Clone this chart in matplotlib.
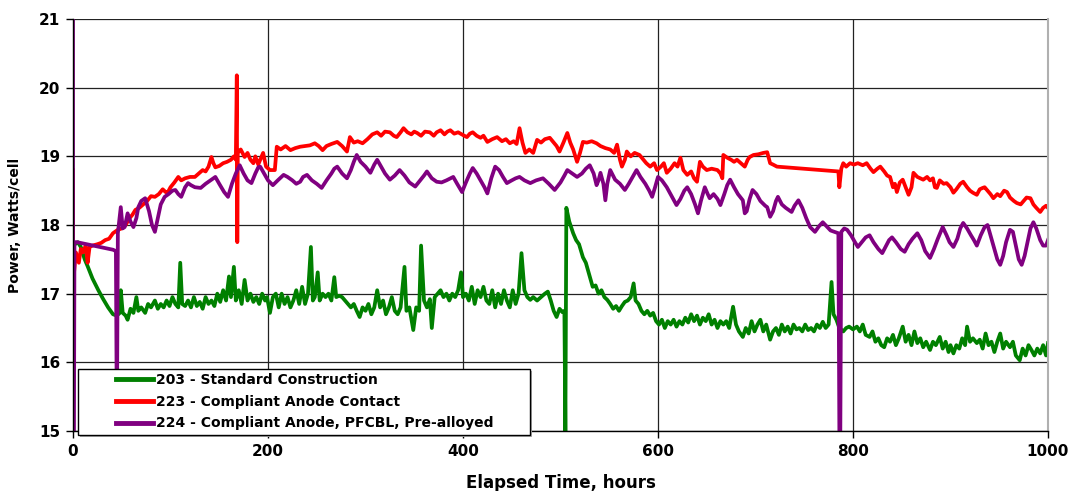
import numpy as np
import matplotlib
matplotlib.use("Agg")
import matplotlib.pyplot as plt
from matplotlib.patches import Rectangle

# (hours, watts/cell)
cell_203 = [
    (2, 17.72), (5, 17.75), (8, 17.68), (12, 17.5), (15, 17.4), (20, 17.22), (26, 17.05),
    (31, 16.92), (36, 16.8), (41, 16.7), (45, 16.68), (48, 16.72), (49, 17.05), (51, 16.72),
    (54, 16.68), (56, 16.62), (59, 16.78), (62, 16.72), (65, 16.95), (67, 16.75), (70, 16.8),
    (74, 16.72), (77, 16.85), (80, 16.8), (84, 16.9), (87, 16.78), (90, 16.85), (93, 16.8),
    (96, 16.9), (99, 16.82), (102, 16.95), (105, 16.85), (108, 16.8), (110, 17.45), (112, 16.85),
    (115, 16.82), (118, 16.9), (121, 16.8), (124, 16.95), (127, 16.82), (130, 16.88), (133, 16.78),
    (136, 16.95), (139, 16.85), (142, 16.9), (145, 16.82), (148, 17.0), (151, 16.88), (154, 17.05),
    (157, 16.9), (160, 17.25), (162, 16.95), (165, 17.39), (167, 16.9), (170, 17.05), (173, 16.85),
    (176, 17.2), (179, 16.9), (182, 17.0), (185, 16.88), (188, 16.95), (191, 16.85), (194, 17.0),
    (197, 16.9), (199, 16.95), (202, 16.72), (205, 16.95), (208, 17.0), (211, 16.8), (214, 17.0),
    (217, 16.85), (220, 16.95), (223, 16.8), (226, 16.9), (229, 17.05), (232, 16.85), (235, 17.1),
    (238, 16.85), (241, 17.0), (244, 17.68), (246, 16.9), (248, 16.95), (251, 17.31), (253, 16.9),
    (256, 17.0), (259, 16.95), (262, 17.0), (265, 16.9), (268, 17.24), (270, 16.95), (273, 16.97),
    (276, 16.95), (279, 16.9), (282, 16.85), (285, 16.8), (288, 16.85), (291, 16.75), (294, 16.66),
    (297, 16.8), (300, 16.75), (303, 16.85), (306, 16.7), (309, 16.8), (312, 17.05), (315, 16.8),
    (318, 16.9), (321, 16.7), (324, 16.8), (327, 16.95), (330, 16.75), (333, 16.7), (336, 16.8),
    (340, 17.39), (342, 16.75), (345, 16.8), (349, 16.47), (352, 16.8), (355, 16.75), (357, 17.7),
    (360, 16.9), (363, 16.8), (366, 16.92), (368, 16.5), (371, 16.95), (374, 17.0), (377, 17.05),
    (380, 16.95), (383, 17.0), (386, 16.9), (389, 17.0), (392, 16.95), (395, 17.05), (398, 17.31),
    (400, 16.95), (403, 17.0), (406, 16.9), (409, 17.1), (412, 16.85), (415, 17.05), (418, 16.95),
    (421, 17.1), (424, 16.9), (427, 16.85), (430, 17.05), (433, 16.8), (436, 17.0), (439, 16.85),
    (442, 17.05), (445, 16.9), (448, 16.8), (451, 17.05), (454, 16.85), (457, 17.0), (460, 17.59),
    (463, 17.05), (466, 16.95), (469, 16.91), (472, 16.95), (476, 16.9), (480, 16.95), (484, 17.0),
    (487, 17.03), (490, 16.9), (493, 16.75), (496, 16.66), (499, 16.78), (502, 16.73), (504, 16.75),
    (505, 15.0), (506, 18.25), (509, 18.05), (513, 17.88), (516, 17.78), (519, 17.72), (523, 17.53),
    (526, 17.45), (529, 17.3), (531, 17.2), (533, 17.1), (536, 17.12), (539, 17.0), (542, 17.05),
    (545, 16.95), (548, 16.91), (551, 16.85), (554, 16.78), (557, 16.82), (560, 16.75), (563, 16.82),
    (566, 16.88), (569, 16.9), (572, 16.95), (575, 17.15), (577, 16.9), (580, 16.85), (583, 16.75),
    (586, 16.7), (589, 16.75), (592, 16.68), (595, 16.72), (598, 16.6), (601, 16.55), (604, 16.62),
    (607, 16.5), (610, 16.6), (613, 16.55), (616, 16.62), (619, 16.52), (622, 16.6), (625, 16.55),
    (628, 16.65), (631, 16.58), (634, 16.7), (637, 16.6), (640, 16.68), (643, 16.55), (646, 16.65),
    (649, 16.6), (652, 16.7), (655, 16.55), (658, 16.62), (661, 16.5), (664, 16.6), (667, 16.55),
    (670, 16.6), (673, 16.5), (677, 16.81), (680, 16.55), (683, 16.45), (687, 16.37), (690, 16.5),
    (693, 16.42), (696, 16.6), (699, 16.45), (702, 16.55), (705, 16.62), (708, 16.45), (711, 16.55),
    (715, 16.33), (718, 16.45), (721, 16.5), (724, 16.4), (727, 16.55), (730, 16.45), (733, 16.52),
    (736, 16.42), (739, 16.55), (742, 16.48), (745, 16.5), (748, 16.45), (751, 16.55), (754, 16.47),
    (757, 16.5), (760, 16.45), (763, 16.55), (766, 16.5), (769, 16.59), (772, 16.5), (775, 16.55),
    (778, 17.17), (780, 16.7), (783, 16.62), (786, 16.5), (790, 16.45), (793, 16.5), (796, 16.52),
    (800, 16.48), (804, 16.52), (807, 16.45), (810, 16.55), (813, 16.4), (817, 16.37), (820, 16.45),
    (823, 16.3), (826, 16.35), (829, 16.25), (832, 16.22), (835, 16.35), (838, 16.3), (841, 16.4),
    (844, 16.25), (847, 16.35), (851, 16.52), (854, 16.3), (857, 16.4), (860, 16.25), (863, 16.45),
    (866, 16.28), (869, 16.35), (872, 16.22), (875, 16.3), (879, 16.18), (882, 16.3), (885, 16.25),
    (889, 16.37), (892, 16.2), (895, 16.3), (898, 16.15), (900, 16.25), (903, 16.13), (906, 16.25),
    (909, 16.2), (912, 16.35), (915, 16.25), (917, 16.52), (920, 16.3), (923, 16.35), (927, 16.28),
    (930, 16.33), (933, 16.2), (936, 16.42), (939, 16.25), (942, 16.3), (945, 16.15), (948, 16.3),
    (951, 16.42), (954, 16.2), (957, 16.3), (961, 16.22), (964, 16.3), (967, 16.1), (971, 16.03),
    (974, 16.2), (977, 16.1), (980, 16.25), (983, 16.18), (986, 16.1), (989, 16.2), (992, 16.13),
    (995, 16.25), (998, 16.1), (1000, 16.28),
]

cell_223 = [
    (0, 18.8), (0, 16.7), (1, 17.3), (3, 17.6), (6, 17.45), (8, 17.65), (10, 17.6), (13, 17.7),
    (15, 17.45), (17, 17.68), (20, 17.7), (25, 17.72), (29, 17.74), (33, 17.78), (37, 17.8),
    (41, 17.88), (46, 17.93), (50, 17.95), (54, 18.0), (58, 18.1), (61, 18.15), (64, 18.22),
    (68, 18.25), (72, 18.3), (76, 18.35), (80, 18.42), (84, 18.41), (88, 18.45), (92, 18.52),
    (95, 18.48), (97, 18.47), (100, 18.55), (104, 18.62), (108, 18.7), (111, 18.65), (115, 18.68),
    (120, 18.7), (125, 18.7), (129, 18.75), (133, 18.8), (136, 18.78), (139, 18.85), (142, 18.99),
    (144, 18.9), (146, 18.84), (150, 18.86), (154, 18.9), (158, 18.92), (162, 18.95), (165, 19.0),
    (167, 18.95), (168, 20.18), (168.5, 17.75), (169, 19.05), (172, 19.1), (176, 18.99), (179, 19.05),
    (182, 18.95), (185, 18.9), (187, 19.0), (190, 18.88), (192, 18.95), (195, 19.05), (198, 18.85),
    (202, 18.8), (207, 18.8), (209, 19.14), (213, 19.1), (218, 19.15), (223, 19.09), (228, 19.12),
    (233, 19.14), (238, 19.15), (243, 19.16), (248, 19.19), (252, 19.15), (256, 19.09), (260, 19.15),
    (265, 19.18), (271, 19.21), (276, 19.15), (281, 19.07), (284, 19.28), (288, 19.2), (292, 19.22),
    (297, 19.19), (302, 19.25), (307, 19.32), (312, 19.35), (316, 19.3), (320, 19.36), (325, 19.35),
    (329, 19.3), (332, 19.28), (336, 19.35), (339, 19.41), (343, 19.35), (347, 19.32), (350, 19.36),
    (353, 19.34), (357, 19.3), (361, 19.36), (366, 19.35), (370, 19.3), (373, 19.35), (377, 19.38),
    (381, 19.32), (384, 19.36), (387, 19.38), (391, 19.33), (395, 19.35), (400, 19.31), (404, 19.28),
    (407, 19.33), (410, 19.35), (414, 19.3), (418, 19.27), (421, 19.3), (425, 19.21), (430, 19.25),
    (435, 19.28), (440, 19.22), (444, 19.25), (448, 19.19), (452, 19.22), (455, 19.18), (458, 19.41),
    (461, 19.2), (464, 19.05), (468, 19.1), (472, 19.05), (476, 19.24), (480, 19.2), (484, 19.25),
    (489, 19.27), (493, 19.2), (496, 19.15), (499, 19.07), (503, 19.2), (507, 19.34), (510, 19.2),
    (513, 19.1), (517, 18.92), (520, 19.05), (523, 19.21), (527, 19.2), (532, 19.22), (537, 19.19),
    (541, 19.15), (546, 19.12), (551, 19.1), (555, 19.05), (558, 19.17), (561, 18.95), (563, 18.85),
    (566, 18.95), (568, 19.07), (572, 19.0), (576, 19.05), (581, 19.02), (585, 18.95), (588, 18.9),
    (592, 18.85), (596, 18.9), (599, 18.8), (603, 18.85), (606, 18.9), (609, 18.76), (613, 18.82),
    (617, 18.9), (620, 18.85), (623, 18.98), (626, 18.8), (630, 18.73), (634, 18.78), (637, 18.68),
    (640, 18.63), (643, 18.92), (646, 18.85), (650, 18.8), (655, 18.82), (661, 18.8), (664, 18.75),
    (666, 18.68), (667, 19.02), (671, 18.98), (675, 18.95), (678, 18.92), (681, 18.95), (685, 18.9),
    (689, 18.85), (692, 18.95), (694, 18.99), (698, 19.02), (703, 19.03), (708, 19.05), (712, 19.06),
    (715, 18.9), (718, 18.88), (722, 18.85), (785, 18.78), (786, 18.55), (788, 18.82), (790, 18.9),
    (793, 18.85), (797, 18.9), (801, 18.88), (805, 18.9), (810, 18.87), (814, 18.9), (818, 18.82),
    (821, 18.77), (825, 18.82), (828, 18.85), (832, 18.78), (835, 18.72), (838, 18.7), (841, 18.55),
    (843, 18.6), (845, 18.48), (848, 18.62), (851, 18.66), (854, 18.55), (857, 18.44), (860, 18.55),
    (862, 18.76), (866, 18.7), (869, 18.68), (872, 18.66), (876, 18.7), (879, 18.65), (882, 18.68),
    (884, 18.55), (886, 18.54), (889, 18.65), (893, 18.6), (896, 18.61), (900, 18.55), (903, 18.47),
    (906, 18.52), (910, 18.6), (913, 18.63), (917, 18.55), (920, 18.5), (923, 18.47), (927, 18.44),
    (930, 18.52), (933, 18.54), (935, 18.55), (938, 18.5), (941, 18.45), (944, 18.39), (948, 18.45),
    (951, 18.42), (955, 18.5), (958, 18.48), (961, 18.4), (965, 18.35), (968, 18.32), (972, 18.3),
    (975, 18.35), (978, 18.4), (982, 18.39), (985, 18.3), (988, 18.25), (992, 18.19), (995, 18.25),
    (998, 18.28), (1000, 18.25),
]

cell_224 = [
    (0, 21.0), (0, 15.0), (1, 15.0), (1.5, 17.75), (4, 17.75), (41, 17.64), (44, 17.62), (45, 15.0),
    (46, 17.88), (49, 18.26), (51, 17.95), (53, 17.97), (56, 18.17), (59, 18.05), (62, 17.97),
    (65, 18.1), (67, 18.26), (70, 18.35), (74, 18.39), (78, 18.2), (81, 18.0), (84, 17.9), (87, 18.1),
    (90, 18.3), (94, 18.41), (98, 18.45), (102, 18.5), (105, 18.51), (108, 18.45), (111, 18.41),
    (115, 18.55), (118, 18.61), (121, 18.58), (125, 18.55), (131, 18.54), (136, 18.6), (141, 18.65),
    (146, 18.7), (150, 18.6), (155, 18.48), (159, 18.41), (163, 18.6), (167, 18.75), (171, 18.87),
    (175, 18.75), (179, 18.65), (183, 18.61), (187, 18.75), (190, 18.84), (192, 18.85), (196, 18.75),
    (200, 18.65), (205, 18.58), (210, 18.65), (216, 18.73), (220, 18.7), (225, 18.65), (229, 18.6),
    (233, 18.63), (236, 18.7), (240, 18.73), (245, 18.65), (250, 18.6), (255, 18.54), (260, 18.65),
    (265, 18.75), (268, 18.82), (271, 18.85), (276, 18.75), (281, 18.68), (285, 18.8), (288, 18.92),
    (291, 19.02), (295, 18.92), (300, 18.85), (305, 18.76), (309, 18.88), (312, 18.95), (316, 18.85),
    (320, 18.75), (325, 18.66), (330, 18.72), (335, 18.8), (340, 18.72), (345, 18.62), (351, 18.56),
    (356, 18.65), (360, 18.72), (363, 18.78), (368, 18.68), (373, 18.63), (378, 18.62), (383, 18.65),
    (390, 18.7), (394, 18.6), (399, 18.48), (403, 18.62), (407, 18.75), (410, 18.83), (414, 18.75),
    (418, 18.65), (422, 18.55), (425, 18.46), (429, 18.68), (433, 18.85), (437, 18.8), (441, 18.7),
    (445, 18.61), (450, 18.65), (454, 18.68), (458, 18.7), (463, 18.65), (469, 18.61), (475, 18.65),
    (482, 18.68), (488, 18.6), (494, 18.51), (500, 18.62), (504, 18.72), (507, 18.8), (512, 18.75),
    (517, 18.7), (522, 18.75), (526, 18.82), (530, 18.87), (534, 18.75), (537, 18.58), (539, 18.65),
    (541, 18.76), (544, 18.6), (546, 18.36), (548, 18.6), (551, 18.8), (556, 18.66), (561, 18.6),
    (566, 18.51), (570, 18.6), (574, 18.7), (578, 18.8), (582, 18.7), (587, 18.6), (591, 18.5),
    (594, 18.41), (597, 18.55), (600, 18.7), (604, 18.65), (609, 18.55), (614, 18.42), (619, 18.29),
    (623, 18.38), (627, 18.5), (630, 18.55), (634, 18.45), (638, 18.3), (641, 18.17), (644, 18.35),
    (648, 18.55), (651, 18.45), (653, 18.39), (657, 18.45), (661, 18.38), (664, 18.29), (668, 18.45),
    (671, 18.58), (674, 18.66), (678, 18.55), (682, 18.45), (687, 18.36), (689, 18.17), (691, 18.2),
    (694, 18.38), (697, 18.51), (701, 18.45), (705, 18.35), (710, 18.28), (712, 18.26), (715, 18.12),
    (718, 18.2), (721, 18.35), (723, 18.41), (727, 18.3), (731, 18.25), (734, 18.22), (737, 18.19),
    (740, 18.28), (744, 18.36), (748, 18.25), (752, 18.1), (756, 17.97), (761, 17.9), (765, 17.98),
    (769, 18.04), (773, 17.98), (777, 17.92), (781, 17.9), (785, 17.88), (786, 15.0), (787, 15.0),
    (788, 17.9), (791, 17.95), (794, 17.93), (798, 17.85), (802, 17.75), (805, 17.68), (809, 17.75),
    (813, 17.82), (817, 17.85), (821, 17.75), (826, 17.65), (830, 17.59), (834, 17.7), (837, 17.78),
    (840, 17.82), (844, 17.75), (849, 17.65), (853, 17.61), (857, 17.72), (861, 17.8), (866, 17.88),
    (870, 17.78), (874, 17.62), (879, 17.52), (883, 17.65), (887, 17.8), (892, 17.97), (896, 17.85),
    (899, 17.75), (903, 17.68), (907, 17.8), (910, 17.95), (913, 18.03), (917, 17.95), (921, 17.85),
    (924, 17.78), (927, 17.7), (931, 17.85), (935, 17.97), (938, 18.0), (941, 17.85), (944, 17.7),
    (948, 17.5), (951, 17.42), (954, 17.55), (957, 17.75), (961, 17.93), (964, 17.9), (967, 17.7),
    (970, 17.5), (973, 17.42), (976, 17.55), (979, 17.75), (982, 17.95), (985, 18.04), (988, 17.95),
    (992, 17.78), (995, 17.7), (998, 17.7), (1000, 17.78),
]

labels = [
    "203 - Standard Construction",
    "223 - Compliant Anode Contact",
    "224 - Compliant Anode, PFCBL, Pre-alloyed",
]
colors = ["#008000", "#FF0000", "#800080"]
x_ticks = [0, 200, 400, 600, 800, 1000]
y_ticks = [15, 16, 17, 18, 19, 20, 21]

plt.rcParams["font.family"] = "DejaVu Sans"
fig = plt.figure(figsize=(10.7, 4.91), dpi=100)
ax = fig.add_axes([73 / 1070, 60 / 491, 975 / 1070, 412 / 491])

for series, label, color in zip([cell_203, cell_223, cell_224], labels, colors):
    hours, power = zip(*series)
    ax.plot(hours, power, color=color, lw=2.7, label=label, solid_joinstyle="round")

ax.set_xlim(0, 1000)
ax.set_ylim(15, 21)
ax.set_xticks(x_ticks)
ax.set_yticks(y_ticks)
ax.grid(True, color="#222222", lw=0.9)
ax.set_axisbelow(True)

for side in ["left", "bottom"]:
    ax.spines[side].set_color("black")
    ax.spines[side].set_linewidth(1.0)
ax.spines["top"].set_visible(False)
ax.spines["right"].set_color("#b0b0b0")
ax.spines["right"].set_linewidth(1.5)

ax.tick_params(axis="both", length=5, width=1, direction="out", labelsize=11, pad=4)
for lab in ax.get_xticklabels() + ax.get_yticklabels():
    lab.set_fontweight("bold")

ax.set_xlabel("Elapsed Time, hours", fontsize=12, fontweight="bold", labelpad=11)
ax.set_ylabel("Power, Watts/cell", fontsize=10, fontweight="bold", labelpad=12)

# legend box drawn by hand so the entries can sit inset like the original
bx, by, bw, bh = 0.0051, -0.0097, 0.4636, 0.1602
ax.add_patch(Rectangle((bx + 0.002, by - 0.005), bw, bh, transform=ax.transAxes,
                       facecolor="#a8a8a8", edgecolor="none", clip_on=False, zorder=4))
ax.add_patch(Rectangle((bx, by), bw, bh, transform=ax.transAxes, facecolor="white",
                       edgecolor="black", lw=1.0, clip_on=False, zorder=4.5))

leg = ax.legend(loc="upper left", bbox_to_anchor=(0.044, 0.141), frameon=False,
                prop={"weight": "bold", "size": 10}, handlelength=2.7, handletextpad=0.2,
                borderpad=0, labelspacing=0.56, borderaxespad=0)
leg.set_zorder(5)
for h in leg.get_lines():
    h.set_linewidth(3.5)

fig.savefig("out.png", dpi=100)
